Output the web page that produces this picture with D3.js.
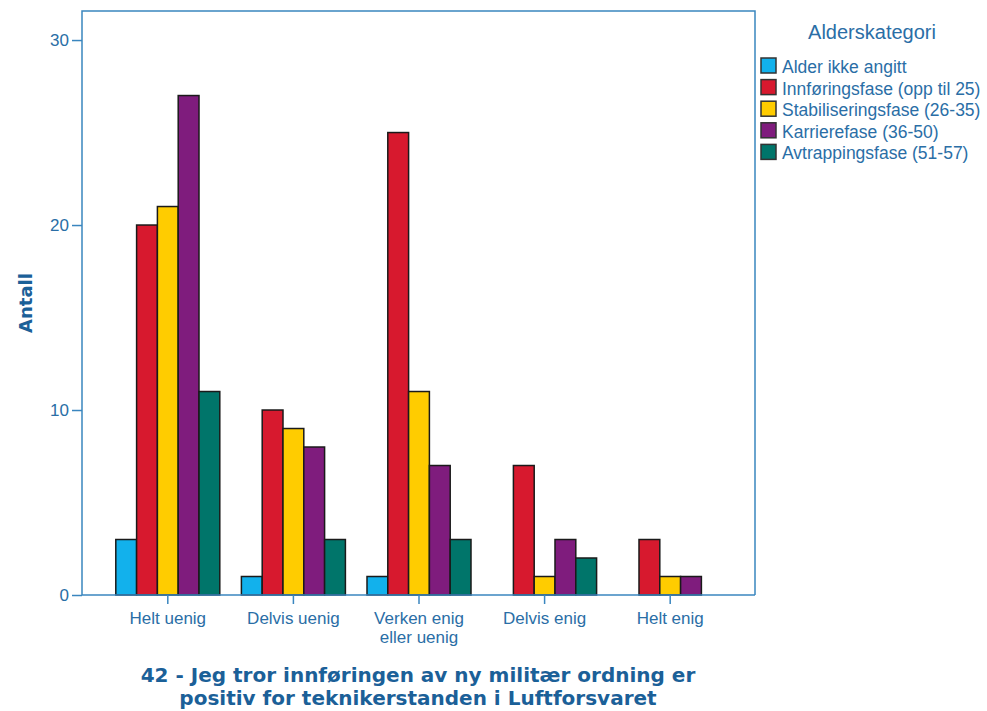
<html>
<head>
	<meta charset="utf-8">
	<title>Antall per alderskategori</title>
	<style>
		body { margin:0; padding:0; background:#fff; font-family:"Liberation Sans", Arial, sans-serif; }
		svg { display:block; }
		.tick text { fill:#2a6ea6; }
		.tick line, .domain { stroke:#3a86bf; stroke-width:1.5; }
	</style>
</head>
<body>
	<svg width="987" height="711"></svg>
	<script src="https://d3js.org/d3.v7.min.js"></script>
	<script>

		// svaralternativer (x-akse)
		var categories = ["Helt uenig", "Delvis uenig", "Verken enig eller uenig", "Delvis enig", "Helt enig"];
		var categoryLines = [["Helt uenig"], ["Delvis uenig"], ["Verken enig", "eller uenig"], ["Delvis enig"], ["Helt enig"]];

		// aldersgrupper (serier)
		var groups = ["Alder ikke angitt", "Innføringsfase (opp til 25)", "Stabiliseringsfase (26-35)", "Karrierefase (36-50)", "Avtrappingsfase (51-57)"];
		var colours = ["#12b1ec", "#d7192e", "#ffcc00", "#7f1c7d", "#00756a"];

		// antall per serie, en verdi per kategori
		var alderIkkeAngitt = [3, 1, 1, 0, 0];
		var innforingsfase = [20, 10, 25, 7, 3];
		var stabiliseringsfase = [21, 9, 11, 1, 1];
		var karrierefase = [27, 8, 7, 3, 1];
		var avtrappingsfase = [11, 3, 3, 2, 0];
		var series = [alderIkkeAngitt, innforingsfase, stabiliseringsfase, karrierefase, avtrappingsfase];

		var yTicks = [0, 10, 20, 30];

		var textBlue = "#2a6ea6";
		var titleBlue = "#1b6098";

		var svg = d3.select("svg");

		var plot = { left:82, right:755, top:11, bottom:595 };

		var x = d3.scaleBand().domain(categories).range([105, 733]);
		var xInner = d3.scaleBand().domain(groups).range([-52, 52]);
		var y = d3.scaleLinear().domain([0, 31.57]).range([plot.bottom, plot.top]);

		// ramme
		svg.append("path")
			.attr("d", "M" + plot.left + "," + plot.bottom + "V" + plot.top + "H" + plot.right + "V" + plot.bottom)
			.attr("fill", "none")
			.attr("stroke", "#3a86bf")
			.attr("stroke-width", 1.5);

		// søyler
		categories.forEach(function(cat, ci) {
			var g = svg.append("g").attr("transform", "translate(" + (x(cat) + x.bandwidth() / 2) + ",0)");
			groups.forEach(function(grp, gi) {
				var v = series[gi][ci];
				if (v == 0) return;
				g.append("rect")
					.attr("x", xInner(grp))
					.attr("y", y(v))
					.attr("width", xInner.bandwidth())
					.attr("height", y(0) - y(v))
					.attr("fill", colours[gi])
					.attr("stroke", "#1a1a1a")
					.attr("stroke-width", 1.5);
			});
		});

		// y-akse
		var yAxis = svg.append("g")
			.attr("transform", "translate(" + plot.left + ",0)")
			.call(d3.axisLeft(y).tickValues(yTicks).tickSize(10).tickPadding(3).tickFormat(d3.format("d")));
		yAxis.select(".domain").remove();
		yAxis.selectAll("text").style("font-size", "17px").style("font-family", "Liberation Sans, Arial");

		// x-akse
		var xAxis = svg.append("g")
			.attr("transform", "translate(0," + plot.bottom + ")")
			.call(d3.axisBottom(x).tickSize(9).tickPadding(8));
		xAxis.select(".domain")
			.attr("d", "M" + plot.left + ",0H" + plot.right);
		xAxis.selectAll(".tick text").each(function(d, i) {
			var t = d3.select(this).text(null).style("font-size", "17px").style("font-family", "Liberation Sans, Arial");
			categoryLines[i].forEach(function(line, li) {
				t.append("tspan").attr("x", 0).attr("dy", li == 0 ? "0.71em" : "1.12em").text(line);
			});
		});

		// aksetitler
		svg.append("text")
			.attr("transform", "translate(32,303) rotate(-90)")
			.attr("text-anchor", "middle")
			.style("font-family", "DejaVu Sans, Verdana")
			.style("font-weight", "bold")
			.style("font-size", "18px")
			.attr("fill", titleBlue)
			.text("Antall");

		var title = svg.append("text")
			.attr("text-anchor", "middle")
			.style("font-family", "DejaVu Sans, Verdana")
			.style("font-weight", "bold")
			.style("font-size", "20px")
			.attr("fill", titleBlue);
		title.append("tspan").attr("x", 418).attr("y", 682).text("42 - Jeg tror innføringen av ny militær ordning er");
		title.append("tspan").attr("x", 418).attr("y", 705).text("positiv for teknikerstanden i Luftforsvaret");

		// legende
		svg.append("text")
			.attr("x", 872)
			.attr("y", 39)
			.attr("text-anchor", "middle")
			.style("font-size", "20px")
			.attr("fill", textBlue)
			.text("Alderskategori");

		var legend = svg.selectAll(".legend")
			.data(groups)
			.enter()
			.append("g")
			.attr("class", "legend")
			.attr("transform", function(d, i) { return "translate(761," + (58 + i * 21.6) + ")"; });

		legend.append("rect")
			.attr("width", 15)
			.attr("height", 15)
			.attr("fill", function(d, i) { return colours[i]; })
			.attr("stroke", "#333")
			.attr("stroke-width", 1.5);

		legend.append("text")
			.attr("x", 21)
			.attr("y", 15)
			.style("font-size", "17.5px")
			.attr("fill", textBlue)
			.text(function(d) { return d; });

	</script>
</body>
</html>
